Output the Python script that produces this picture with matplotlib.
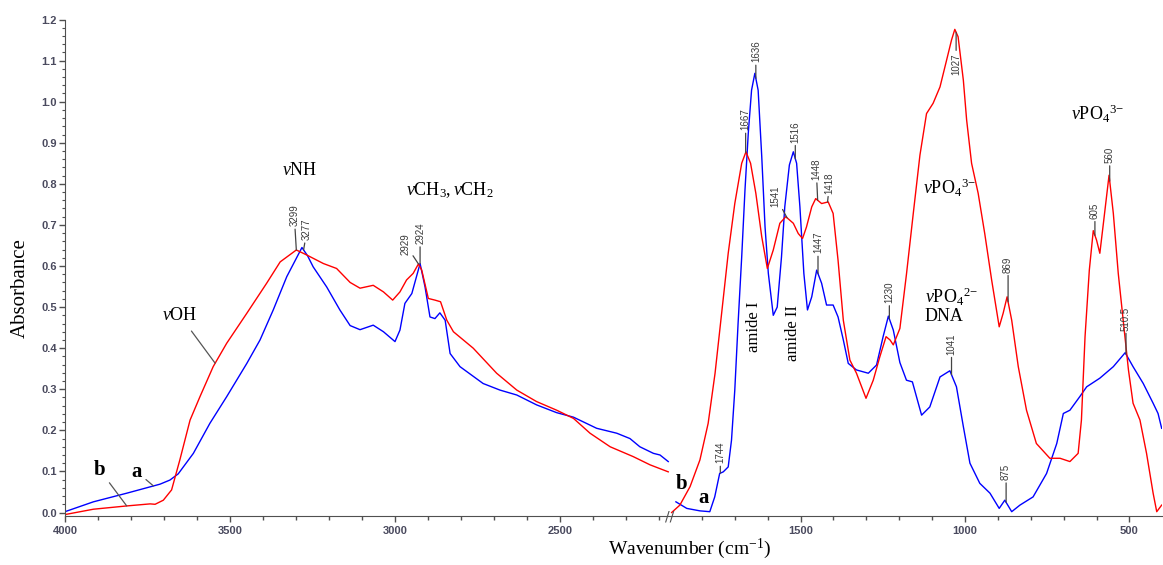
import numpy as np
import matplotlib
matplotlib.use("Agg")
import matplotlib.pyplot as plt
from matplotlib.ticker import MultipleLocator, FormatStrFormatter

plt.rcParams['mathtext.fontset'] = 'custom'
plt.rcParams['mathtext.rm'] = 'Liberation Serif'
plt.rcParams['mathtext.it'] = 'Liberation Serif:italic'
plt.rcParams['mathtext.bf'] = 'Liberation Serif:bold'

# ---------------- data: high-wavenumber segment (4000 - 2170 cm-1) ----------------
wn_a_hi = [4000, 3914, 3813, 3712, 3682, 3657, 3611, 3561, 3510, 3449, 3409, 3369, 3328,
           3282, 3265, 3248, 3207, 3167, 3136, 3106, 3066, 3035, 3000, 2985, 2970, 2949,
           2924, 2909, 2894, 2879, 2864, 2848, 2833, 2803, 2733, 2682, 2631, 2571, 2510,
           2459, 2389, 2328, 2288, 2258, 2217, 2197, 2172]
abs_a_hi = [0.002, 0.026, 0.047, 0.069, 0.079, 0.094, 0.144, 0.217, 0.282, 0.363, 0.420,
            0.493, 0.574, 0.645, 0.625, 0.598, 0.549, 0.493, 0.455, 0.445, 0.456, 0.440,
            0.416, 0.444, 0.509, 0.533, 0.606, 0.549, 0.476, 0.472, 0.486, 0.468, 0.387,
            0.355, 0.314, 0.298, 0.286, 0.262, 0.243, 0.232, 0.205, 0.193, 0.180, 0.160,
            0.144, 0.140, 0.124]

wn_b_hi = [4000, 3914, 3813, 3742, 3727, 3702, 3677, 3652, 3621, 3591, 3551, 3510, 3449,
           3389, 3348, 3299, 3268, 3217, 3177, 3136, 3106, 3066, 3035, 3007, 2985, 2965,
           2945, 2929, 2919, 2899, 2879, 2862, 2843, 2823, 2763, 2692, 2631, 2571, 2510,
           2459, 2409, 2348, 2278, 2227, 2172]
abs_b_hi = [-0.005, 0.008, 0.016, 0.021, 0.020, 0.030, 0.055, 0.128, 0.225, 0.282, 0.355,
            0.412, 0.485, 0.558, 0.610, 0.639, 0.627, 0.606, 0.594, 0.560, 0.546, 0.553,
            0.537, 0.517, 0.537, 0.566, 0.582, 0.605, 0.590, 0.521, 0.517, 0.513, 0.468,
            0.440, 0.400, 0.339, 0.298, 0.270, 0.249, 0.229, 0.193, 0.160, 0.136, 0.116,
            0.099]

# ---------------- data: low-wavenumber segment (1890 - 400 cm-1) ----------------
wn_a_lo = [1879, 1846, 1806, 1776, 1761, 1746, 1735, 1720, 1710, 1700, 1690, 1679, 1669,
           1659, 1649, 1639, 1629, 1618, 1608, 1598, 1583, 1571, 1558, 1548, 1534, 1522,
           1512, 1502, 1490, 1479, 1466, 1451, 1436, 1421, 1401, 1386, 1370, 1355, 1330,
           1294, 1269, 1249, 1233, 1218, 1198, 1178, 1160, 1132, 1107, 1076, 1046, 1026,
           1005, 985, 955, 924, 896, 879, 858, 833, 793, 752, 721, 701, 681, 651, 630,
           590, 549, 513, 489, 458, 428, 413, 402]
abs_a_lo = [0.026, 0.010, 0.004, 0.002, 0.038, 0.095, 0.099, 0.111, 0.176, 0.298, 0.460,
            0.622, 0.785, 0.923, 1.028, 1.069, 1.028, 0.866, 0.695, 0.582, 0.480, 0.500,
            0.622, 0.744, 0.846, 0.878, 0.850, 0.744, 0.582, 0.493, 0.525, 0.590, 0.558,
            0.505, 0.505, 0.476, 0.420, 0.363, 0.347, 0.339, 0.359, 0.428, 0.478, 0.444,
            0.365, 0.322, 0.318, 0.237, 0.257, 0.330, 0.345, 0.306, 0.209, 0.120, 0.071,
            0.047, 0.010, 0.030, 0.002, 0.018, 0.038, 0.095, 0.168, 0.241, 0.249, 0.282,
            0.306, 0.327, 0.355, 0.389, 0.355, 0.314, 0.266, 0.241, 0.205]

wn_b_lo = [1892, 1867, 1836, 1806, 1781, 1760, 1740, 1720, 1700, 1679, 1666, 1652, 1636,
           1618, 1601, 1583, 1563, 1545, 1522, 1507, 1494, 1482, 1466, 1454, 1436, 1416,
           1401, 1386, 1370, 1350, 1330, 1301, 1279, 1259, 1240, 1228, 1218, 1198, 1178,
           1157, 1137, 1117, 1097, 1076, 1056, 1041, 1031, 1021, 1005, 995, 980, 960, 940,
           919, 896, 884, 872, 858, 838, 813, 783, 742, 711, 681, 656, 646, 635, 622, 610,
           600, 590, 578, 562, 549, 534, 519, 503, 489, 468, 448, 428, 417, 402]
abs_b_lo = [0.000, 0.018, 0.063, 0.128, 0.217, 0.339, 0.485, 0.631, 0.752, 0.850, 0.878,
            0.850, 0.777, 0.671, 0.594, 0.639, 0.704, 0.720, 0.704, 0.679, 0.667, 0.695,
            0.744, 0.764, 0.752, 0.756, 0.728, 0.614, 0.468, 0.371, 0.339, 0.278, 0.322,
            0.379, 0.428, 0.420, 0.408, 0.448, 0.580, 0.730, 0.870, 0.971, 0.996, 1.036,
            1.101, 1.150, 1.176, 1.158, 1.052, 0.955, 0.850, 0.777, 0.679, 0.566, 0.452,
            0.485, 0.525, 0.468, 0.355, 0.249, 0.168, 0.132, 0.132, 0.124, 0.144, 0.225,
            0.428, 0.590, 0.686, 0.663, 0.631, 0.712, 0.821, 0.728, 0.582, 0.468, 0.347,
            0.266, 0.225, 0.144, 0.047, 0.002, 0.018]

# tick values
xticks_hi = [4000, 3500, 3000, 2500]
xticks_lo = [1500, 1000, 500]
yticks = [0.0, 0.1, 0.2, 0.3, 0.4, 0.5, 0.6, 0.7, 0.8, 0.9, 1.0, 1.1, 1.2]

# peak labels: (wavenumber, label)
peaks_a_hi = [(3277, '3277'), (2924, '2924')]
peaks_b_hi = [(3299, '3299'), (2929, '2929')]
peaks_a_lo = [(1744, '1744'), (1636, '1636'), (1516, '1516'), (1447, '1447'),
              (1230, '1230'), (1041, '1041'), (875, '875'), (510.5, '510.5')]
peaks_b_lo = [(1667, '1667'), (1541, '1541'), (1448, '1448'), (1418, '1418'),
              (1027, '1027'), (869, '869'), (605, '605'), (560, '560')]

# ---------------- figure ----------------
W, H = 1163, 565
fig = plt.figure(figsize=(W / 100, H / 100), dpi=100)
bottom_px, top_px = 516, 19.5
ax1 = fig.add_axes([65 / W, 1 - bottom_px / H, 605 / W, (bottom_px - top_px) / H])
ax2 = fig.add_axes([670 / W, 1 - bottom_px / H, 492 / W, (bottom_px - top_px) / H], sharey=ax1)

blue, red = '#0000FF', '#FF0000'
lw = 1.0
ax1.plot(wn_a_hi, abs_a_hi, color=blue, lw=lw)
ax1.plot(wn_b_hi, abs_b_hi, color=red, lw=lw)
ax2.plot(wn_a_lo, abs_a_lo, color=blue, lw=lw)
ax2.plot(wn_b_lo, abs_b_lo, color=red, lw=lw)

ax1.set_xlim(4000, 4000 - 605 / 0.33)
ax2.set_xlim(1897, 401)
ax1.set_ylim(-0.0085, 1.2)

spine_c = '#505050'
tick_c = '#4a4a5e'
for ax in (ax1, ax2):
    for s in ('top', 'right'):
        ax.spines[s].set_visible(False)
    ax.spines['bottom'].set_color(spine_c)
    ax.spines['left'].set_color(spine_c)
    ax.xaxis.set_minor_locator(MultipleLocator(100))
    ax.tick_params(axis='x', which='major', length=4, width=1, color=spine_c,
                   labelsize=8, labelcolor=tick_c, pad=3)
    ax.tick_params(axis='x', which='minor', length=3, width=1, color=spine_c)
ax1.set_xticks(xticks_hi)
ax2.set_xticks(xticks_lo)
ax2.spines['left'].set_visible(False)
ax2.tick_params(axis='y', which='both', left=False, labelleft=False)

ax1.set_yticks(yticks)
ax1.yaxis.set_major_formatter(FormatStrFormatter('%.1f'))
ax1.yaxis.set_minor_locator(MultipleLocator(0.02))
ax1.tick_params(axis='y', which='major', length=4, width=1, color=spine_c,
                labelsize=8, labelcolor=tick_c, pad=2)
ax1.tick_params(axis='y', which='minor', length=2, width=0.8, color=spine_c)
for ax in (ax1, ax2):
    for lbl in ax.get_xticklabels() + ax.get_yticklabels():
        lbl.set_fontfamily('Liberation Sans')
        lbl.set_fontweight('bold')

# axis titles
serif = 'Liberation Serif'
fig.text(20 / W, 1 - 288 / H, 'Absorbance', rotation=90, ha='center', va='center',
         fontsize=15, family=serif)
fig.text(690 / W, 1 - 549 / H, 'Wavenumber (cm$^{-1}$)', ha='center', va='center',
         fontsize=14, family=serif)

# axis break mark
ax2.text(0, 0, '//', transform=ax2.transAxes, ha='center', va='center', fontsize=10,
         color=spine_c, family='DejaVu Sans')

# ---------------- peak labels ----------------
def peak(ax, wn, ab, w, text, dy, dx=0.0):
    y = np.interp(w, wn[::-1], ab[::-1])
    ax.annotate(text, xy=(w, y), xytext=(dx, dy), textcoords='offset points',
                rotation=90, ha='center', va='bottom' if dy > 0 else 'top',
                fontsize=7, family='Liberation Sans', color='#3a3a3a',
                arrowprops=dict(arrowstyle='-', color='#444444', lw=0.9,
                                shrinkA=0, shrinkB=0))

off_a_hi = {'3277': (7, 2.5), '2924': (14, 0)}
off_b_hi = {'3299': (17, -1.5), '2929': (6.5, -9.5)}
off_a_lo = {'1744': (7, 0), '1636': (11.5, 0), '1516': (11.5, 0), '1447': (14.5, 0),
            '1230': (11.5, 0), '1041': (14.5, 0), '875': (16, 0), '510.5': (17, 0)}
off_b_lo = {'1667': (16, 0), '1541': (8, -8.5), '1448': (14.5, -1), '1418': (6, 1.5),
            '1027': (-15, 0), '869': (21, 0), '605': (12, 0), '560': (13, 0)}

for w, t in peaks_a_hi:
    peak(ax1, wn_a_hi, abs_a_hi, w, t, off_a_hi[t][0], off_a_hi[t][1])
for w, t in peaks_b_hi:
    peak(ax1, wn_b_hi, abs_b_hi, w, t, off_b_hi[t][0], off_b_hi[t][1])
for w, t in peaks_a_lo:
    peak(ax2, wn_a_lo, abs_a_lo, w, t, off_a_lo[t][0], off_a_lo[t][1])
for w, t in peaks_b_lo:
    peak(ax2, wn_b_lo, abs_b_lo, w, t, off_b_lo[t][0], off_b_lo[t][1])

# ---------------- band labels ----------------
fs = 13
ax1.text(3288, 0.833, r'$\mathit{v}$NH', ha='center', va='center', fontsize=fs, family=serif)
ax1.text(2833, 0.785, r'$\mathit{v}\mathrm{CH}_3,\mathit{v}\mathrm{CH}_2$', ha='center',
         va='center', fontsize=fs, family=serif)
y_oh = np.interp(3545, wn_b_hi[::-1], abs_b_hi[::-1])
ax1.annotate(r'$\mathit{v}$OH', xy=(3545, y_oh), xytext=(3652, 0.48), ha='center',
             va='center', fontsize=fs, family=serif,
             arrowprops=dict(arrowstyle='-', color='#555555', lw=0.9, shrinkA=4, shrinkB=0))
y_b = np.interp(3813, wn_b_hi[::-1], abs_b_hi[::-1])
ax1.annotate('b', xy=(3813, y_b), xytext=(3894, 0.103), ha='center', va='center',
             fontsize=15, family=serif, fontweight='bold',
             arrowprops=dict(arrowstyle='-', color='#555555', lw=0.9, shrinkA=1, shrinkB=0))
y_a = np.interp(3732, wn_a_hi[::-1], abs_a_hi[::-1])
ax1.annotate('a', xy=(3732, y_a), xytext=(3782, 0.099), ha='center', va='center',
             fontsize=15, family=serif, fontweight='bold',
             arrowprops=dict(arrowstyle='-', color='#555555', lw=0.9, shrinkA=1, shrinkB=0))

ax2.text(1861, 0.069, 'b', ha='center', va='center', fontsize=15, family=serif,
         fontweight='bold')
ax2.text(1794, 0.035, 'a', ha='center', va='center', fontsize=15, family=serif,
         fontweight='bold')
ax2.text(1642, 0.451, 'amide I', rotation=90, ha='center', va='center', fontsize=12,
         family=serif)
ax2.text(1523, 0.437, 'amide II', rotation=90, ha='center', va='center', fontsize=12,
         family=serif)
ax2.text(1046, 0.79, r'$\mathit{v}\mathrm{PO}_4{}^{3\!-}$', ha='center', va='center',
         fontsize=fs, family=serif)
ax2.text(1122, 0.505, r'$\mathit{v}\mathrm{PO}_4{}^{2\!-}$' + '\nDNA', ha='left',
         va='center', fontsize=fs, family=serif, multialignment='left', linespacing=1.0)
ax2.text(597, 0.97, r'$\mathit{v}\mathrm{PO}_4{}^{3\!-}$', ha='center', va='center',
         fontsize=fs, family=serif)

fig.savefig('out.png', dpi=100, facecolor='white')
